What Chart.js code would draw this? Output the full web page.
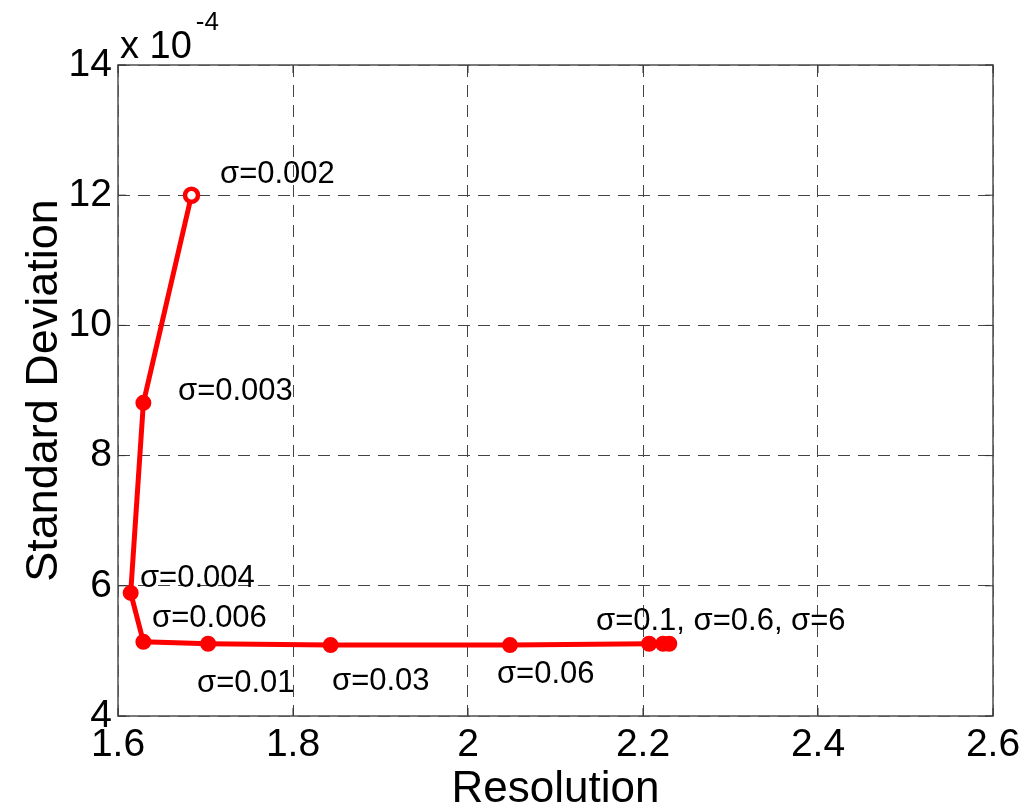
<!DOCTYPE html>
<html>
<head>
<meta charset="utf-8">
<script src="https://cdn.jsdelivr.net/npm/chart.js@4/dist/chart.umd.min.js"></script>
<style>
  html, body { margin: 0; padding: 0; background: #ffffff; }
  canvas { display: block; }
</style>
</head>
<body>
<canvas id="c" width="1035" height="810"></canvas>
<script>
// ---- data (standard deviation in units of 10^-4) ----
const sigmaLabels = ['0.002', '0.003', '0.004', '0.006', '0.01', '0.03', '0.06', '0.1', '0.6', '6'];
const resolution = [1.684, 1.629, 1.6145, 1.629, 1.703, 1.843, 2.048, 2.207, 2.223, 2.230];
const stdDevE4 = [12.0, 8.81, 5.89, 5.14, 5.11, 5.09, 5.09, 5.11, 5.11, 5.11];

const xTicks = [1.6, 1.8, 2.0, 2.2, 2.4, 2.6];
const yTicks = [4, 6, 8, 10, 12, 14];

// annotation texts and their anchor (data coordinates, left/baseline)
const annTexts = ['σ=0.002', 'σ=0.003', 'σ=0.004', 'σ=0.006', 'σ=0.01', 'σ=0.03', 'σ=0.06', 'σ=0.1, σ=0.6, σ=6'];
const annX = [1.7166, 1.6686, 1.6251, 1.6389, 1.6903, 1.8446, 2.0331, 2.1463];
const annY = [12.19, 8.854, 5.982, 5.367, 4.369, 4.40, 4.507, 5.321];

const FONT = "'Liberation Sans', Arial, Helvetica, sans-serif";

const points = resolution.map((x, i) => ({ x: x, y: stdDevE4[i] }));

const framePlugin = {
  id: 'frame',
  afterDatasetsDraw(chart) {
    const ctx = chart.ctx;
    const sx = chart.scales.x, sy = chart.scales.y;
    ctx.save();
    ctx.fillStyle = '#000';
    ctx.font = '31px ' + FONT;
    ctx.textAlign = 'left';
    ctx.textBaseline = 'alphabetic';
    annTexts.forEach((t, i) => {
      ctx.fillText(t, sx.getPixelForValue(annX[i]), sy.getPixelForValue(annY[i]));
    });
    ctx.restore();
  },
  afterDraw(chart) {
    const ctx = chart.ctx;
    const a = chart.chartArea;
    const sx = chart.scales.x, sy = chart.scales.y;
    ctx.save();
    // frame
    ctx.strokeStyle = '#5a5a5a';
    ctx.lineWidth = 1.6;
    ctx.setLineDash([]);
    ctx.strokeRect(a.left, a.top, a.right - a.left, a.bottom - a.top);
    // small inward tick marks
    ctx.strokeStyle = '#333';
    ctx.lineWidth = 1;
    xTicks.forEach(v => {
      const p = sx.getPixelForValue(v);
      ctx.beginPath(); ctx.moveTo(p, a.bottom); ctx.lineTo(p, a.bottom - 8); ctx.stroke();
      ctx.beginPath(); ctx.moveTo(p, a.top); ctx.lineTo(p, a.top + 8); ctx.stroke();
    });
    yTicks.forEach(v => {
      const p = sy.getPixelForValue(v);
      ctx.beginPath(); ctx.moveTo(a.left, p); ctx.lineTo(a.left + 8, p); ctx.stroke();
      ctx.beginPath(); ctx.moveTo(a.right, p); ctx.lineTo(a.right - 8, p); ctx.stroke();
    });
    // exponent multiplier
    ctx.fillStyle = '#000';
    ctx.textAlign = 'left';
    ctx.textBaseline = 'alphabetic';
    ctx.font = '38px ' + FONT;
    const base = 'x 10';
    ctx.fillText(base, a.left + 2, a.top - 7);
    const w = ctx.measureText(base).width;
    ctx.font = '26px ' + FONT;
    ctx.fillText('-4', a.left + 2 + w + 4, a.top - 35);
    ctx.restore();
  }
};

new Chart(document.getElementById('c'), {
  type: 'scatter',
  data: {
    datasets: [{
      data: points,
      showLine: true,
      borderColor: '#ff0000',
      borderWidth: 5,
      tension: 0,
      pointRadius: 6.5,
      pointHoverRadius: 6.5,
      pointBorderWidth: resolution.map((_, i) => i === 0 ? 4.5 : 3),
      pointBorderColor: '#ff0000',
      pointBackgroundColor: resolution.map((_, i) => i === 0 ? '#ffffff' : '#ff0000')
    }]
  },
  options: {
    responsive: false,
    animation: false,
    devicePixelRatio: 1,
    layout: { padding: { top: 65, right: 42, left: 0, bottom: 0 } },
    plugins: { legend: { display: false }, tooltip: { enabled: false } },
    scales: {
      x: {
        type: 'linear',
        min: 1.6, max: 2.6,
        afterFit(scale) { scale.height = 94; },
        afterBuildTicks(scale) { scale.ticks = xTicks.map(v => ({ value: v })); },
        ticks: {
          color: '#000',
          font: { family: FONT, size: 39 },
          padding: 6,
          maxRotation: 0,
          autoSkip: false,
          callback: v => String(Math.round(v * 10) / 10)
        },
        grid: { color: '#444', lineWidth: 1, drawTicks: false },
        border: { display: false, dash: [12, 8] },
        title: {
          display: true,
          text: 'Resolution',
          color: '#000',
          font: { family: FONT, size: 44, lineHeight: 0.9 },
          padding: { top: 0, bottom: 0 }
        }
      },
      y: {
        type: 'linear',
        min: 4, max: 14,
        afterFit(scale) { scale.width = 118; },
        afterBuildTicks(scale) { scale.ticks = yTicks.map(v => ({ value: v })); },
        ticks: {
          color: '#000',
          font: { family: FONT, size: 39 },
          padding: 6,
          autoSkip: false,
          callback: v => String(Math.round(v))
        },
        grid: { color: '#444', lineWidth: 1, drawTicks: false },
        border: { display: false, dash: [12, 8] },
        title: {
          display: true,
          text: 'Standard Deviation',
          color: '#000',
          font: { family: FONT, size: 45, lineHeight: 1.2 },
          padding: { top: 18, bottom: 0 }
        }
      }
    }
  },
  plugins: [framePlugin]
});
</script>
</body>
</html>
